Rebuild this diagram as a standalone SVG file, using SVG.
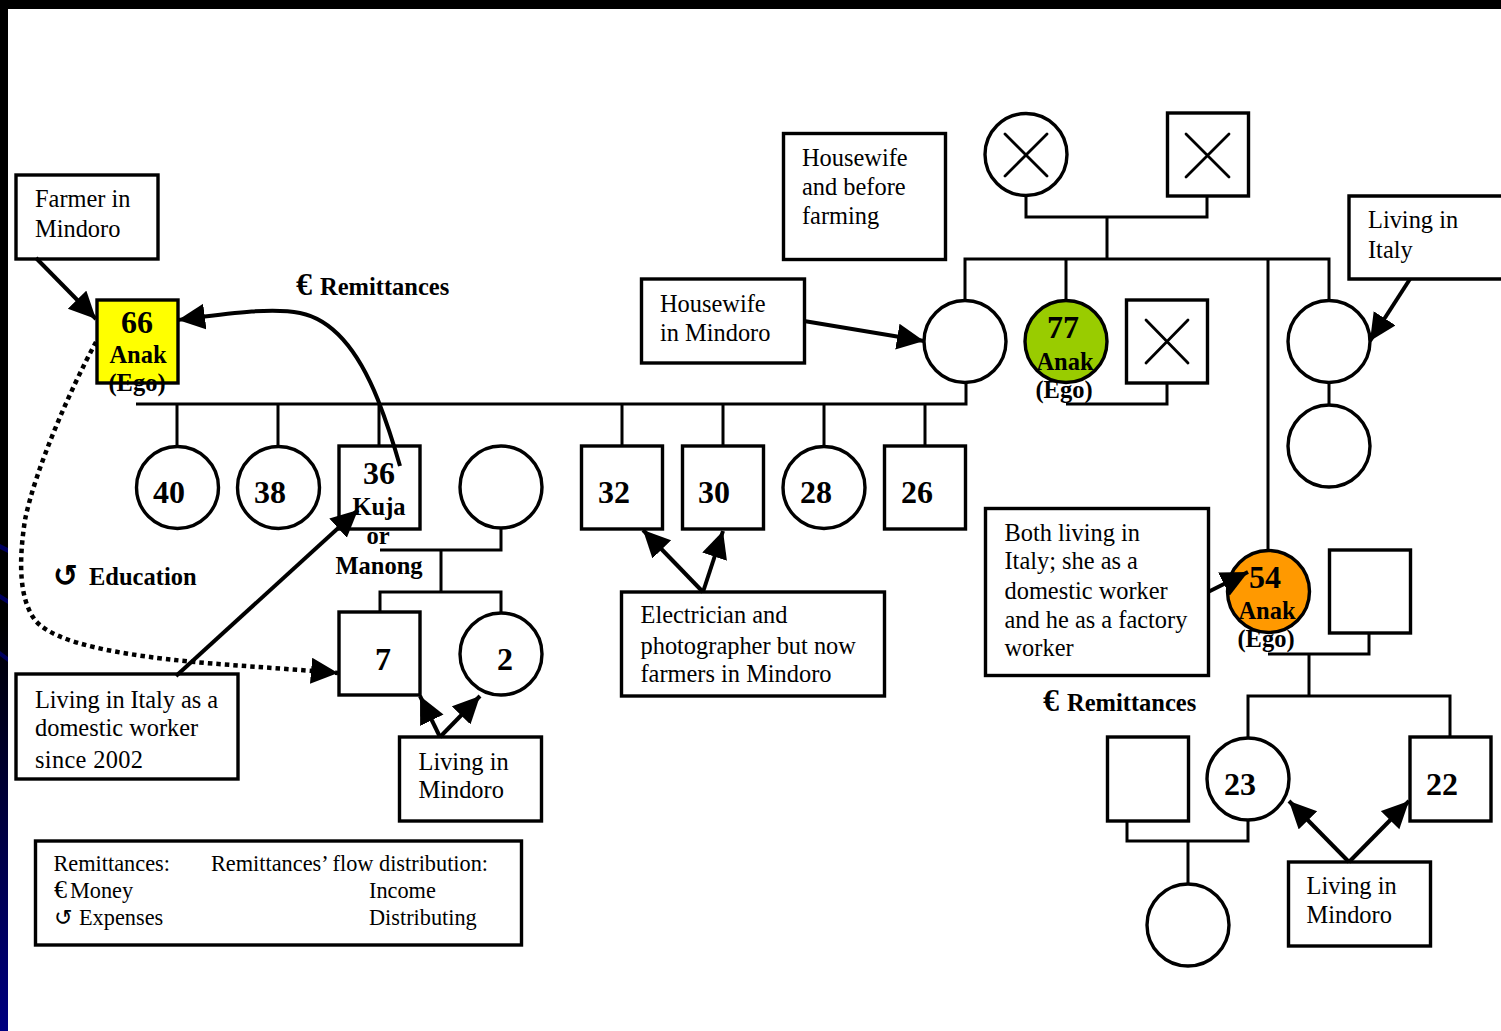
<svg xmlns="http://www.w3.org/2000/svg" width="1501" height="1031" viewBox="0 0 1501 1031">
<style>
.l{fill:none;stroke:#000;stroke-width:3}
.a{fill:none;stroke:#000;stroke-width:4}
.b{fill:#fff;stroke:#000;stroke-width:3.4}
.x{fill:none;stroke:#000;stroke-width:2.8;stroke-linecap:round}
text{font-family:"Liberation Serif",serif;fill:#000}
.t{font-size:24.4px}
.n{font-size:32px;font-weight:bold}
.m{font-size:24.5px;font-weight:bold}
.s{font-size:22.3px}
.r{font-size:24.5px;font-weight:bold}
.c{text-anchor:middle}
.g{font-family:"DejaVu Sans",sans-serif}
</style>
<defs>
<linearGradient id="g" x1="0" y1="0" x2="0" y2="1"><stop offset="0" stop-color="#000"/><stop offset="0.6" stop-color="#000"/><stop offset="1" stop-color="#000080"/></linearGradient>
<marker id="ah" markerUnits="userSpaceOnUse" markerWidth="30" markerHeight="28" refX="27" refY="13" orient="auto"><path d="M0 0L27 13L0 26Z" fill="#000"/></marker>
</defs>
<rect width="1501" height="1031" fill="#fff"/>
<rect x="0" y="0" width="1501" height="9" fill="#000"/>
<rect x="0" y="0" width="8" height="1031" fill="url(#g)"/>
<path d="M0 544L8 548V553L0 549ZM0 594L8 599V604L0 599ZM0 651L8 657V662L0 656Z" fill="#000060"/>
<g id="connectors">
<path class="l" d="M1026 196V217H1207V196M1107 217V259M965 300V259H1329V300M1066 259V300M1268 259V550M1329 383V404M136 404H966V383M177 404V446M278 404V446M379 404V446M622 404V446M723 404V446M824 404V446M925 404V446M1066 404H1167V383M380 550H501V529M441 550V592M380 612V592H501V612M1268 654H1369V633M1309 654V696M1248 737V696H1450V737M1127 821V841H1248V821M1188 841V883"/>
</g>
<g id="note-farmer"><rect class="b" x="16" y="175" width="142" height="84"/><text class="t" x="35" y="207">Farmer in</text><text class="t" x="35" y="237">Mindoro</text></g>
<g id="node-66"><rect x="97" y="300" width="81" height="83" fill="#ff0" stroke="#000" stroke-width="3.4"/><text class="n c" x="137" y="333">66</text><text class="m c" x="138" y="363">Anak</text><text class="m c" x="137" y="391">(Ego)</text></g>
<g id="node-40"><circle class="b" cx="177.500" cy="487.500" r="41"/><text class="n c" x="169" y="503">40</text></g>
<g id="node-38"><circle class="b" cx="278.500" cy="487.500" r="41"/><text class="n c" x="270" y="503">38</text></g>
<g id="node-36"><rect class="b" x="339" y="446" width="81" height="83"/><text class="n c" x="379" y="484">36</text><text class="m c" x="379" y="515">Kuja</text><text class="m c" x="378" y="544">or</text><text class="m c" x="379" y="574">Manong</text></g>
<g id="node-spouse36"><circle class="b" cx="501" cy="487" r="41"/></g>
<g id="node-32"><rect class="b" x="581.500" y="446" width="81" height="83"/><text class="n c" x="614" y="503">32</text></g>
<g id="node-30"><rect class="b" x="682.500" y="446" width="81" height="83"/><text class="n c" x="714" y="503">30</text></g>
<g id="node-28"><circle class="b" cx="824" cy="487.500" r="41"/><text class="n c" x="816" y="503">28</text></g>
<g id="node-26"><rect class="b" x="884.500" y="446" width="81" height="83"/><text class="n c" x="917" y="503">26</text></g>
<g id="node-7"><rect class="b" x="339" y="612" width="81" height="83"/><text class="n c" x="383" y="670">7</text></g>
<g id="node-2"><circle class="b" cx="501" cy="654" r="41"/><text class="n c" x="505" y="670">2</text></g>
<g id="note-italy"><rect class="b" x="16" y="674" width="222" height="105"/><text class="t" x="35" y="708" textLength="183">Living in Italy as a</text><text class="t" x="35" y="736">domestic worker</text><text class="t" x="35" y="768" textLength="108">since 2002</text></g>
<g id="note-mindoro1"><rect class="b" x="399.500" y="737" width="142" height="84"/><text class="t" x="418.500" y="770">Living in</text><text class="t" x="418.500" y="798">Mindoro</text></g>
<g id="legend"><rect class="b" x="35.500" y="841" width="486" height="104"/><text class="s" x="53.500" y="871">Remittances:</text><text class="s" x="211" y="871">Remittances’ flow distribution:</text><text class="s" x="54" y="898"><tspan font-size="26">€</tspan><tspan x="70">Money</tspan></text><text class="s" x="369" y="898">Income</text><text class="s g" x="54" y="925">↺</text><text class="s" x="79" y="925">Expenses</text><text class="s" x="369" y="925">Distributing</text></g>
<g id="label-rem1"><text class="r" x="296" y="295"><tspan font-size="32">€</tspan><tspan x="320">Remittances</tspan></text></g>
<g id="label-edu"><text class="g" font-size="30" font-weight="bold" x="53" y="586">↺</text><text class="r" x="89" y="585">Education</text></g>
<g id="label-rem2"><text class="r" x="1043" y="711"><tspan font-size="32">€</tspan><tspan x="1067">Remittances</tspan></text></g>
<g id="note-elec"><rect class="b" x="621.500" y="592" width="263" height="104"/><text class="t" x="640.500" y="623">Electrician and</text><text class="t" x="640.500" y="654">photographer but now</text><text class="t" x="640.500" y="682">farmers in Mindoro</text></g>
<g id="note-house1"><rect class="b" x="641.500" y="279" width="163" height="84"/><text class="t" x="660" y="312">Housewife</text><text class="t" x="660" y="341">in Mindoro</text></g>
<g id="note-house2"><rect class="b" x="783.500" y="133.500" width="162" height="126"/><text class="t" x="802" y="166">Housewife</text><text class="t" x="802" y="195">and before</text><text class="t" x="802" y="224">farming</text></g>
<g id="node-gm"><circle class="b" cx="1026" cy="154.500" r="41"/><path class="x" d="M1005 134L1047 176M1047 134L1005 176"/></g>
<g id="node-gf"><rect class="b" x="1167.500" y="113" width="81" height="83"/><path class="x" d="M1186 134L1229 177M1229 134L1186 177"/></g>
<g id="node-c1"><circle class="b" cx="965" cy="341.500" r="41"/></g>
<g id="node-77"><circle cx="1066" cy="341.500" r="41" fill="#9c0" stroke="#000" stroke-width="3.4"/><text class="n c" x="1063" y="338">77</text><text class="m c" x="1065" y="370">Anak</text><text class="m c" x="1064" y="398">(Ego)</text></g>
<g id="node-dead"><rect class="b" x="1126.500" y="300" width="81" height="83"/><path class="x" d="M1146 320L1188 363M1188 320L1146 363"/></g>
<g id="node-c2"><circle class="b" cx="1329" cy="341.500" r="41"/></g>
<g id="node-c3"><circle class="b" cx="1329" cy="446" r="41"/></g>
<g id="note-italy2"><path class="b" d="M1503 196H1349V279H1503"/><text class="t" x="1368" y="228">Living in</text><text class="t" x="1368" y="258">Italy</text></g>
<g id="note-both"><rect class="b" x="985.500" y="508.500" width="223" height="167"/><text class="t" x="1004.500" y="541">Both living in</text><text class="t" x="1004.500" y="569">Italy; she as a</text><text class="t" x="1004.500" y="599">domestic worker</text><text class="t" x="1004.500" y="628">and he as a factory</text><text class="t" x="1004.500" y="656">worker</text></g>
<g id="node-54"><circle cx="1268.500" cy="591.500" r="41" fill="#f90" stroke="#000" stroke-width="3.4"/><text class="n c" x="1265" y="588">54</text><text class="m c" x="1267" y="619">Anak</text><text class="m c" x="1266" y="647">(Ego)</text></g>
<g id="node-sp54"><rect class="b" x="1329.500" y="550" width="81" height="83"/></g>
<g id="node-b1"><rect class="b" x="1107.500" y="737" width="81" height="84"/></g>
<g id="node-23"><circle class="b" cx="1248" cy="779" r="41"/><text class="n c" x="1240" y="795">23</text></g>
<g id="node-22"><rect class="b" x="1410" y="737" width="81" height="84"/><text class="n c" x="1442" y="795">22</text></g>
<g id="node-gc"><circle class="b" cx="1188" cy="925" r="41"/></g>
<g id="note-mindoro2"><rect class="b" x="1288.500" y="862" width="142" height="84"/><text class="t" x="1306.500" y="894">Living in</text><text class="t" x="1306.500" y="923">Mindoro</text></g>
<g id="flow-connectors">
<path class="a" d="M36 258L96 319" marker-end="url(#ah)"/>
<path class="a" d="M400 466C392 438 385 418 378 400C360 355 335 320 300 313C270 307 225 314 178 320" marker-end="url(#ah)"/>
<path class="a" d="M176 676L358 510" marker-end="url(#ah)"/>
<path fill="none" stroke="#000" stroke-width="4.500" stroke-dasharray="4.500 4" d="M96 342C70 390 35 470 25 520C18 565 20 600 35 620C55 645 130 655 175 660C220 665 280 668 338 673" marker-end="url(#ah)"/>
<path class="a" d="M804 321L924 341" marker-end="url(#ah)"/>
<path class="a" d="M1410 279L1370 341" marker-end="url(#ah)"/>
<path class="a" d="M1208 592L1248 572" marker-end="url(#ah)"/>
<path class="a" d="M703 592L643 530" marker-end="url(#ah)"/>
<path class="a" d="M703 592L723 531" marker-end="url(#ah)"/>
<path class="a" d="M440 737L420 696" marker-end="url(#ah)"/>
<path class="a" d="M440 737L480 696" marker-end="url(#ah)"/>
<path class="a" d="M1349 862L1289 801" marker-end="url(#ah)"/>
<path class="a" d="M1349 862L1409 801" marker-end="url(#ah)"/>
</g>
</svg>
